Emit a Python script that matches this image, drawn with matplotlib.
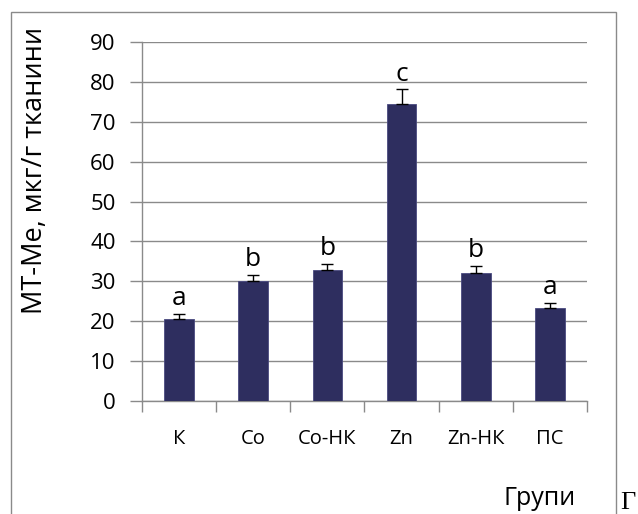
import matplotlib.pyplot as plt
from matplotlib.patches import Rectangle

plt.rcParams['font.family'] = ['Open Sans', 'DejaVu Sans']

groups = ['К', 'Co', 'Co-НК', 'Zn', 'Zn-НК', 'ПС']
means = [20.6, 30.1, 32.8, 74.4, 32.2, 23.3]
errors = [1.2, 1.5, 1.5, 3.7, 1.7, 1.3]
letters = ['a', 'b', 'b', 'c', 'b', 'a']

bar_color = '#2e2e5f'
grid_color = '#8a8a8a'

fig = plt.figure(figsize=(6.38, 5.14), dpi=100)
ax = fig.add_axes([142 / 638, 1 - 401 / 514, (587 - 142) / 638, (401 - 42) / 514])

x = list(range(len(groups)))
ax.bar(x, means, width=0.4, color=bar_color, edgecolor='#4a4a80', linewidth=0.6, zorder=3)
ax.errorbar(x, means, yerr=[[0] * len(errors), errors], fmt='none', ecolor='black',
            elinewidth=1, capsize=4, capthick=1, zorder=4)

for xi, m, e, lab in zip(x, means, errors, letters):
    ax.annotate(lab, (xi, m + e), xytext=(0, 2), textcoords='offset points',
                ha='center', va='bottom', fontsize=19)

ax.set_xlim(-0.5, len(groups) - 0.5)
ax.set_ylim(0, 90)
ax.set_yticks(range(0, 91, 10))
ax.yaxis.grid(True, color=grid_color, linewidth=1)
ax.set_axisbelow(True)

# category boundaries carry the tick marks, labels sit at bar centres
ax.set_xticks([i - 0.5 for i in range(len(groups) + 1)])
ax.set_xticklabels([])
ax.set_xticks(x, minor=True)
ax.set_xticklabels(groups, minor=True, fontsize=14.5)
ax.tick_params(axis='x', which='major', length=8, color=grid_color, width=1)
ax.tick_params(axis='x', which='minor', length=0, pad=20)
ax.tick_params(axis='y', length=9, color=grid_color, width=1, pad=10, labelsize=16)

for side in ['top', 'right']:
    ax.spines[side].set_visible(False)
for side in ['left', 'bottom']:
    ax.spines[side].set_color(grid_color)
    ax.spines[side].set_linewidth(1)

fig.text(35 / 638, 1 - 170 / 514, 'МТ-Ме, мкг/г тканини', rotation=90,
         ha='center', va='center', fontsize=19.5)
fig.text(540 / 638, 1 - 505 / 514, 'Групи', ha='center', va='baseline', fontsize=18)
fig.text(620 / 638, 1 - 492 / 514, 'Г', ha='left', va='top', fontsize=19,
         family=['Liberation Serif', 'DejaVu Serif'])

# frame around the chart area, open at the bottom edge
fig.patches.append(Rectangle((11 / 638, -0.05), (616 - 11) / 638, 1.05 - 12 / 514,
                             transform=fig.transFigure, fill=False,
                             edgecolor=grid_color, linewidth=1))

fig.savefig('out.png', dpi=100)
